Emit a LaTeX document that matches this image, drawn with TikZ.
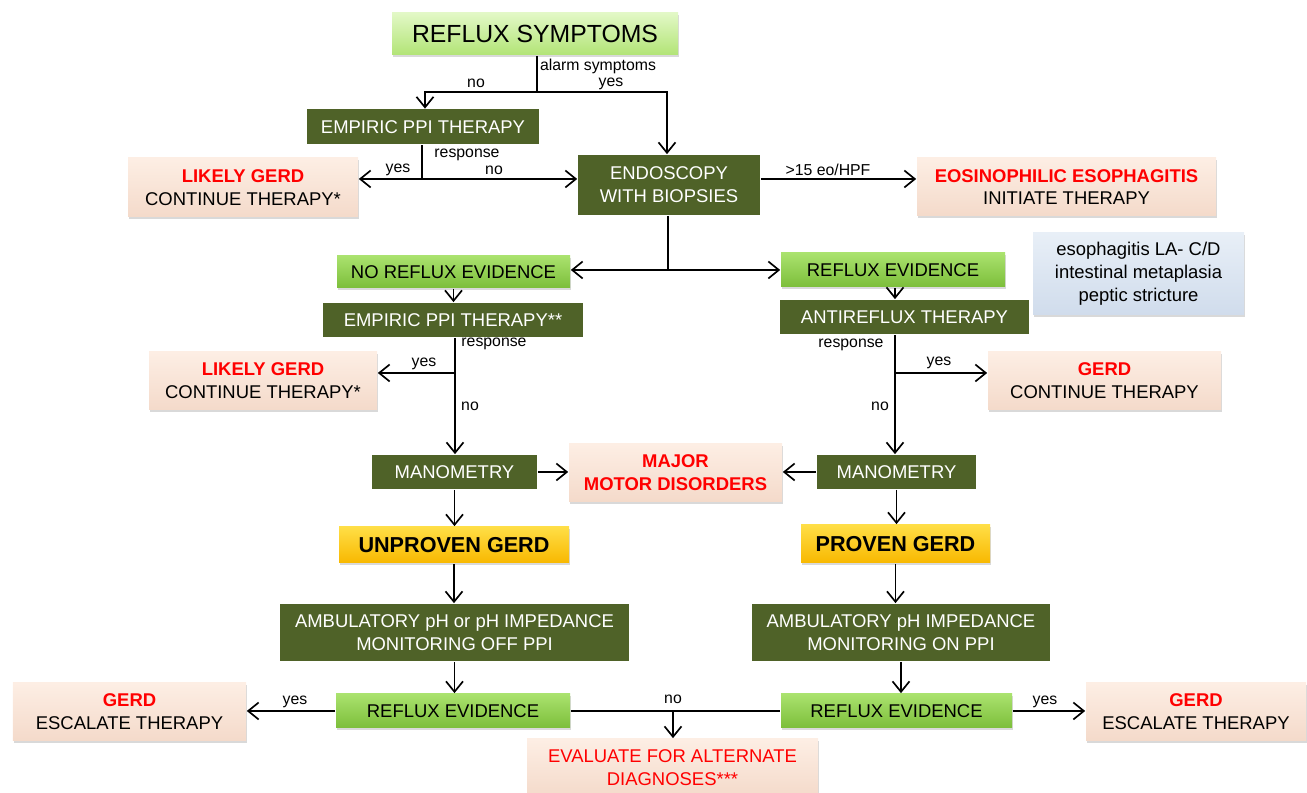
\documentclass[tikz,border=0pt]{standalone}
\usepackage{fontspec}
\setmainfont{Liberation Sans}
\usetikzlibrary{arrows.meta, positioning, shadows}

\definecolor{darkolive}{RGB}{79,98,40}
\definecolor{limetop}{RGB}{226,248,198}
\definecolor{limebot}{RGB}{178,228,118}
\definecolor{greentop}{RGB}{170,226,110}
\definecolor{greenbot}{RGB}{124,190,58}
\definecolor{peachtop}{RGB}{253,238,228}
\definecolor{peachbot}{RGB}{244,218,202}
\definecolor{goldtop}{RGB}{255,222,70}
\definecolor{goldbot}{RGB}{248,184,0}
\definecolor{skytop}{RGB}{232,239,247}
\definecolor{skybot}{RGB}{208,220,236}
\definecolor{alarmred}{RGB}{255,0,0}

\begin{document}
\begin{tikzpicture}[>={Straight Barb[length=2.1mm,width=3.4mm]}, line width=0.95pt,
      font=\fontsize{10.5}{13}\selectfont,
      darkbox/.style={rectangle, fill=darkolive, text=white, align=center, inner sep=0pt},
      bevel/.style={rectangle, align=center, inner sep=0pt,
                    drop shadow={shadow xshift=0.6pt, shadow yshift=-1.4pt, opacity=0.3}},
      limebox/.style={bevel, top color=limetop, bottom color=limebot},
      greenbox/.style={bevel, top color=greentop, bottom color=greenbot},
      peachbox/.style={bevel, top color=peachtop, bottom color=peachbot},
      goldbox/.style={bevel, top color=goldtop, bottom color=goldbot, font=\fontsize{12.3}{14}\selectfont\bfseries},
      skybox/.style={bevel, top color=skytop, bottom color=skybot},
      lbl/.style={font=\fontsize{9}{10}\selectfont, inner sep=0pt}]

   \useasboundingbox (0,0) rectangle (26.14,15.86);

   % Nodes
      \node[limebox,minimum width=5.72cm,minimum height=0.84cm,font=\fontsize{14.1}{16}\selectfont] (symp) at (10.70,15.18) {REFLUX SYMPTOMS};
      \node[darkbox,minimum width=4.64cm,minimum height=0.70cm]  (emp1)  at (8.46,13.32)  {EMPIRIC PPI THERAPY};
      \node[peachbox,minimum width=4.60cm,minimum height=1.18cm] (lik1)  at (4.86,12.11)  {\textcolor{alarmred}{\bfseries LIKELY GERD}\\CONTINUE THERAPY*};
      \node[darkbox,minimum width=3.64cm,minimum height=1.20cm]  (endo)  at (13.38,12.16) {ENDOSCOPY\\WITH BIOPSIES};
      \node[peachbox,minimum width=5.98cm,minimum height=1.16cm] (eoe)   at (21.33,12.12) {\textcolor{alarmred}{\bfseries EOSINOPHILIC ESOPHAGITIS}\\INITIATE THERAPY};
      \node[greenbox,minimum width=4.66cm,minimum height=0.64cm] (nore)  at (9.07,10.42)  {NO REFLUX EVIDENCE};
      \node[greenbox,minimum width=4.48cm,minimum height=0.68cm] (reev1) at (17.86,10.46) {REFLUX EVIDENCE};
      \node[skybox,minimum width=4.22cm,minimum height=1.64cm]   (find)  at (22.77,10.38) {esophagitis LA- C/D\\intestinal metaplasia\\peptic stricture};
      \node[darkbox,minimum width=5.20cm,minimum height=0.68cm]  (emp2)  at (9.06,9.46)   {EMPIRIC PPI THERAPY**};
      \node[darkbox,minimum width=4.98cm,minimum height=0.68cm]  (anti)  at (18.09,9.52)  {ANTIREFLUX THERAPY};
      \node[peachbox,minimum width=4.56cm,minimum height=1.16cm] (lik2)  at (5.26,8.24)   {\textcolor{alarmred}{\bfseries LIKELY GERD}\\CONTINUE THERAPY*};
      \node[peachbox,minimum width=4.66cm,minimum height=1.16cm] (cont)  at (22.09,8.24)  {\textcolor{alarmred}{\bfseries GERD}\\CONTINUE THERAPY};
      \node[darkbox,minimum width=3.30cm,minimum height=0.68cm]  (mano1) at (9.09,6.42)   {MANOMETRY};
      \node[peachbox,minimum width=4.26cm,minimum height=1.16cm,text=alarmred,font=\fontsize{10.5}{13}\selectfont\bfseries] (major) at (13.51,6.40) {MAJOR\\MOTOR DISORDERS};
      \node[darkbox,minimum width=3.18cm,minimum height=0.68cm]  (mano2) at (17.93,6.42)  {MANOMETRY};
      \node[goldbox,minimum width=4.60cm,minimum height=0.72cm]  (unpr)  at (9.08,4.96)   {UNPROVEN GERD};
      \node[goldbox,minimum width=3.78cm,minimum height=0.76cm]  (prov)  at (17.91,4.98)  {PROVEN GERD};
      \node[darkbox,minimum width=6.98cm,minimum height=1.14cm]  (amb1)  at (9.09,3.21)   {AMBULATORY pH or pH IMPEDANCE\\MONITORING OFF PPI};
      \node[darkbox,minimum width=5.96cm,minimum height=1.14cm]  (amb2)  at (18.02,3.21)  {AMBULATORY pH IMPEDANCE\\MONITORING ON PPI};
      \node[greenbox,minimum width=4.68cm,minimum height=0.68cm] (reev2) at (9.06,1.64)   {REFLUX EVIDENCE};
      \node[greenbox,minimum width=4.62cm,minimum height=0.68cm] (reev3) at (17.93,1.64)  {REFLUX EVIDENCE};
      \node[peachbox,minimum width=4.66cm,minimum height=1.16cm] (esc1)  at (2.59,1.62)   {\textcolor{alarmred}{\bfseries GERD}\\ESCALATE THERAPY};
      \node[peachbox,minimum width=4.40cm,minimum height=1.16cm] (esc2)  at (23.92,1.62)  {\textcolor{alarmred}{\bfseries GERD}\\ESCALATE THERAPY};
      \node[peachbox,minimum width=5.82cm,minimum height=1.16cm,text=alarmred] (eval) at (13.45,0.50) {EVALUATE FOR ALTERNATE\\DIAGNOSES***};

   % Branch points
      \coordinate (fork1) at (10.74,14.02);
      \coordinate (fork2) at (8.44,12.28);
      \coordinate (fork3) at (13.36,10.46);
      \coordinate (fork4) at (9.10,8.40);
      \coordinate (fork5) at (17.90,8.40);
      \coordinate (fork6) at (13.46,1.64);

   % Paths
      \draw (symp.south -| fork1) -- (fork1);
      \draw[->] (fork1) -| (emp1.north -| 8.50,0);
      \draw[->] (fork1) -| (endo.north -| 13.34,0);
      \draw (emp1.south -| fork2) -- (fork2);
      \draw[->] (fork2) -- (fork2 -| lik1.east);
      \draw[->] (fork2) -- (fork2 -| endo.west);
      \draw[->] (fork2 -| endo.east) -- (fork2 -| eoe.west);
      \draw (endo.south -| fork3) -- (fork3);
      \draw[->] (fork3) -- (fork3 -| nore.east);
      \draw[->] (fork3) -- (fork3 -| reev1.west);
      \draw[->] (nore.south) -- (nore.south |- emp2.north);
      \draw[->] (reev1.south -| fork5) -- (fork5 |- anti.north);
      \draw[->] (emp2.south -| fork4) -- (fork4 |- mano1.north);
      \draw[->] (fork4) -- (fork4 -| lik2.east);
      \draw[->] (anti.south -| fork5) -- (fork5 |- mano2.north);
      \draw[->] (fork5) -- (fork5 -| cont.west);
      \draw[->] (mano1.east) -- (mano1.east -| major.west);
      \draw[->] (mano2.west) -- (mano2.west -| major.east);
      \draw[->] (mano1.south) -- (mano1.south |- unpr.north);
      \draw[->] (mano2.south) -- (mano2.south |- prov.north);
      \draw[->] (unpr.south) -- (unpr.south |- amb1.north);
      \draw[->] (prov.south) -- (prov.south |- amb2.north);
      \draw[->] (amb1.south) -- (amb1.south |- reev2.north);
      \draw[->] (amb2.south) -- (amb2.south |- reev3.north);
      \draw[->] (reev2.west) -- (reev2.west -| esc1.east);
      \draw[->] (reev3.east) -- (reev3.east -| esc2.west);
      \draw (reev2.east) -- (reev3.west);
      \draw[->] (fork6) -- (fork6 |- eval.north);

   % Labels
      \node[lbl] (l1)  at (9.52,14.20)  {no};
      \node[lbl] (l2)  at (11.96,14.54) {alarm symptoms};
      \node[lbl] (l3)  at (12.22,14.18) {yes};
      \node[lbl] (l4)  at (9.34,12.76)  {response};
      \node[lbl] (l5)  at (7.96,12.46)  {yes};
      \node[lbl] (l6)  at (9.88,12.46)  {no};
      \node[lbl] (l7)  at (16.56,12.46) {>15 eo/HPF};
      \node[lbl] (l8)  at (9.88,8.98)   {response};
      \node[lbl] (l9)  at (8.48,8.58)   {yes};
      \node[lbl] (l10) at (9.40,7.74)   {no};
      \node[lbl] (l11) at (17.02,8.96)  {response};
      \node[lbl] (l12) at (18.78,8.60)  {yes};
      \node[lbl] (l13) at (17.60,7.74)  {no};
      \node[lbl] (l14) at (5.90,1.82)   {yes};
      \node[lbl] (l15) at (20.90,1.82)  {yes};
      \node[lbl] (l16) at (13.46,1.88)  {no};
\end{tikzpicture}
\end{document}
